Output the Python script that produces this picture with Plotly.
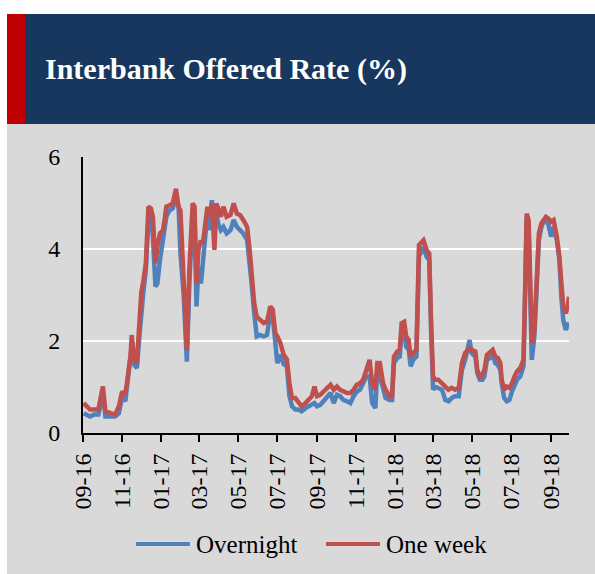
import plotly.graph_objects as go

dates = [
    "2016-09-02", "2016-09-07", "2016-09-12", "2016-09-18", "2016-09-25", "2016-10-02", "2016-10-06",
    "2016-10-14", "2016-10-21", "2016-10-27", "2016-11-01", "2016-11-06", "2016-11-09", "2016-11-14",
    "2016-11-16", "2016-11-20", "2016-11-24", "2016-11-28", "2016-12-01", "2016-12-04", "2016-12-08",
    "2016-12-12", "2016-12-16", "2016-12-19", "2016-12-23", "2016-12-26", "2016-12-30", "2017-01-04",
    "2017-01-09", "2017-01-14", "2017-01-19", "2017-01-24", "2017-01-28", "2017-01-31", "2017-02-05",
    "2017-02-10", "2017-02-14", "2017-02-19", "2017-02-22", "2017-02-25", "2017-02-28", "2017-03-04",
    "2017-03-07", "2017-03-11", "2017-03-14", "2017-03-17", "2017-03-21", "2017-03-25", "2017-03-28",
    "2017-03-31", "2017-04-04", "2017-04-08", "2017-04-13", "2017-04-19", "2017-04-24", "2017-04-29",
    "2017-05-04", "2017-05-09", "2017-05-15", "2017-05-19", "2017-05-22", "2017-05-26", "2017-05-30",
    "2017-06-04", "2017-06-10", "2017-06-15", "2017-06-20", "2017-06-24", "2017-06-28", "2017-07-01",
    "2017-07-06", "2017-07-11", "2017-07-16", "2017-07-20", "2017-07-24", "2017-07-29", "2017-08-03",
    "2017-08-08", "2017-08-14", "2017-08-19", "2017-08-24", "2017-08-28", "2017-09-01", "2017-09-06",
    "2017-09-11", "2017-09-16", "2017-09-22", "2017-09-27", "2017-10-02", "2017-10-07", "2017-10-12",
    "2017-10-18", "2017-10-23", "2017-10-28", "2017-11-02", "2017-11-07", "2017-11-12", "2017-11-17",
    "2017-11-22", "2017-11-26", "2017-12-01", "2017-12-04", "2017-12-08", "2017-12-13", "2017-12-17",
    "2017-12-23", "2017-12-27", "2017-12-30", "2018-01-04", "2018-01-08", "2018-01-11", "2018-01-15",
    "2018-01-18", "2018-01-22", "2018-01-25", "2018-01-29", "2018-02-03", "2018-02-07", "2018-02-11",
    "2018-02-14", "2018-02-19", "2018-02-23", "2018-02-26", "2018-03-01", "2018-03-04", "2018-03-09",
    "2018-03-15", "2018-03-20", "2018-03-25", "2018-03-30", "2018-04-04", "2018-04-10", "2018-04-15",
    "2018-04-20", "2018-04-25", "2018-04-27", "2018-04-30", "2018-05-06", "2018-05-09", "2018-05-13",
    "2018-05-17", "2018-05-20", "2018-05-24", "2018-05-29", "2018-06-02", "2018-06-06", "2018-06-10",
    "2018-06-14", "2018-06-16", "2018-06-20", "2018-06-24", "2018-06-28", "2018-07-02", "2018-07-06",
    "2018-07-10", "2018-07-15", "2018-07-20", "2018-07-23", "2018-07-25", "2018-07-28", "2018-07-30",
    "2018-08-02", "2018-08-06", "2018-08-10", "2018-08-13", "2018-08-17", "2018-08-20", "2018-08-24",
    "2018-08-28", "2018-09-01", "2018-09-05", "2018-09-10", "2018-09-14", "2018-09-17", "2018-09-20",
    "2018-09-24", "2018-09-27", "2018-09-29",
]

one_week = [
    0.65, 0.58, 0.51, 0.51, 0.51, 1.01, 0.47, 0.43, 0.40, 0.58, 0.90, 0.83, 1.16, 1.66,
    2.13, 1.59, 1.52, 2.31, 3.07, 3.29, 3.69, 4.92, 4.88, 4.70, 3.69, 4.05, 4.34, 4.41,
    4.92, 4.95, 4.99, 5.31, 4.92, 4.84, 3.30, 1.80, 3.60, 4.99, 4.92, 3.25, 3.98, 4.19,
    4.12, 4.70, 4.92, 4.70, 4.99, 3.98, 4.99, 4.88, 4.70, 4.92, 4.70, 4.74, 4.99, 4.77,
    4.74, 4.63, 4.48, 3.98, 3.40, 2.82, 2.53, 2.46, 2.39, 2.42, 2.75, 2.68, 2.17, 2.10,
    1.95, 1.70, 1.60, 1.08, 0.76, 0.76, 0.65, 0.58, 0.65, 0.72, 0.80, 1.01, 0.80, 0.83,
    0.90, 0.94, 1.05, 0.94, 1.01, 0.94, 0.90, 0.87, 0.87, 0.94, 1.05, 1.08, 1.16, 1.37,
    1.59, 1.08, 0.94, 1.52, 1.52, 1.08, 0.94, 0.80, 0.80, 1.66, 1.77, 1.81, 2.39, 2.42,
    2.10, 2.02, 1.66, 1.74, 1.81, 4.09, 4.16, 4.19, 3.98, 3.90, 2.39, 1.23, 1.16, 1.16,
    1.08, 1.01, 0.94, 0.98, 0.94, 0.98, 1.52, 1.74, 1.84, 1.84, 1.81, 1.77, 1.37, 1.23,
    1.27, 1.37, 1.70, 1.77, 1.81, 1.66, 1.63, 1.52, 1.16, 0.94, 1.01, 0.98, 1.08, 1.23,
    1.34, 1.41, 1.59, 3.40, 4.77, 4.63, 3.25, 1.95, 2.24, 3.25, 4.34, 4.56, 4.63, 4.70,
    4.66, 4.59, 4.63, 4.27, 3.83, 3.11, 2.75, 2.60, 2.75, 2.96,
]

overnight = [
    0.43, 0.40, 0.36, 0.40, 0.40, 0.85, 0.36, 0.36, 0.36, 0.43, 0.80, 0.69, 1.08, 1.52,
    1.88, 1.48, 1.41, 2.10, 2.68, 3.04, 3.54, 4.63, 4.70, 4.27, 3.18, 3.25, 3.76, 4.27,
    4.70, 4.84, 4.88, 5.13, 4.92, 3.90, 3.00, 1.55, 3.30, 4.70, 4.70, 2.75, 3.61, 3.25,
    3.69, 4.48, 4.77, 4.41, 5.06, 4.70, 4.77, 4.55, 4.41, 4.48, 4.34, 4.41, 4.63, 4.48,
    4.41, 4.34, 4.19, 3.76, 3.25, 2.60, 2.10, 2.13, 2.10, 2.13, 2.60, 2.53, 1.81, 1.52,
    1.70, 1.50, 1.45, 0.80, 0.58, 0.51, 0.51, 0.47, 0.54, 0.58, 0.61, 0.65, 0.58, 0.61,
    0.69, 0.76, 0.87, 0.65, 0.83, 0.80, 0.72, 0.69, 0.65, 0.80, 0.90, 0.94, 1.08, 1.23,
    1.23, 0.65, 0.54, 1.37, 1.23, 0.94, 0.76, 0.72, 0.72, 1.52, 1.63, 1.66, 2.21, 2.24,
    1.88, 1.81, 1.45, 1.59, 1.66, 3.83, 3.98, 4.05, 3.83, 3.76, 2.17, 0.94, 1.01, 0.98,
    0.94, 0.72, 0.69, 0.76, 0.80, 0.80, 1.37, 1.59, 1.95, 2.02, 1.74, 1.66, 1.30, 1.16,
    1.16, 1.23, 1.59, 1.63, 1.70, 1.52, 1.48, 1.37, 1.08, 0.76, 0.69, 0.72, 0.90, 1.05,
    1.16, 1.23, 1.45, 3.25, 4.70, 4.48, 2.89, 1.59, 2.10, 3.11, 4.19, 4.48, 4.59, 4.63,
    4.52, 4.27, 4.48, 4.19, 3.76, 2.96, 2.46, 2.24, 2.31, 2.40,
]

series_names = ["Overnight", "One week"]
title_text = "Interbank Offered Rate (%)"
y_ticks = [0, 2, 4, 6]

# page body margin is removed in post_script, so figure origin = page origin
W, H = 595, 574
PL, PR, PT, PB = 83, 569, 157, 433          # plot area in page pixels
L, R, T, B = PL, W - PR, PT, H - PB
PW, PH = PR - PL, PB - PT

def px(xp):
    return (xp - PL) / PW

def py(yp):
    return (PB - yp) / PH

BLUE = "#4F81BD"
RED = "#C0504D"
GRAY = "#D9D9D9"
NAVY = "#17375E"
SERIF = "Liberation Serif"

fig = go.Figure()
fig.add_trace(go.Scatter(x=dates, y=overnight, mode="lines", name=series_names[0],
                         line=dict(color=BLUE, width=4.5)))
fig.add_trace(go.Scatter(x=dates, y=one_week, mode="lines", name=series_names[1],
                         line=dict(color=RED, width=4.5)))

shapes = []
# white page margins (top and left)
shapes.append(dict(type="rect", xref="paper", yref="paper", x0=px(0), x1=px(W), y0=py(0), y1=py(14),
                   fillcolor="white", line=dict(width=0), layer="below"))
shapes.append(dict(type="rect", xref="paper", yref="paper", x0=px(0), x1=px(7), y0=py(0), y1=py(H),
                   fillcolor="white", line=dict(width=0), layer="below"))
# navy banner
shapes.append(dict(type="rect", xref="paper", yref="paper", x0=px(7), x1=px(W), y0=py(14), y1=py(124),
                   fillcolor=NAVY, line=dict(width=0), layer="below"))
# red strip
shapes.append(dict(type="rect", xref="paper", yref="paper", x0=px(7), x1=px(25), y0=py(14), y1=py(124),
                   fillcolor="#C00000", line=dict(width=0), layer="below"))

# legend drawn manually
leg_y = 544
leg = [(136, 190, BLUE, series_names[0]), (326, 380, RED, series_names[1])]
annotations = [dict(text=title_text, xref="paper", yref="paper", x=px(43), y=py(69),
                    xanchor="left", yanchor="middle", showarrow=False,
                    font=dict(family=SERIF, size=30, color="white", weight="bold"))]
for x0, x1, c, name in leg:
    shapes.append(dict(type="line", xref="paper", yref="paper", x0=px(x0), x1=px(x1), y0=py(leg_y), y1=py(leg_y),
                       line=dict(color=c, width=4)))
    annotations.append(dict(text=name, xref="paper", yref="paper", x=px(x1 + 4), y=py(leg_y),
                            xanchor="left", yanchor="middle", showarrow=False,
                            font=dict(family=SERIF, size=25, color="black")))

fig.update_layout(
    width=W, height=H,
    margin=dict(l=L, r=R, t=T, b=B, pad=0),
    paper_bgcolor=GRAY, plot_bgcolor=GRAY,
    showlegend=False,
    shapes=shapes,
    annotations=annotations,
    xaxis=dict(
        type="date", range=["2016-09-01", "2018-09-29"],
        tick0="2016-09-01", dtick="M2", tickformat="%m-%y",
        tickangle=-90, ticks="outside", ticklen=7, tickwidth=2, tickcolor="black",
        showline=True, linecolor="black", linewidth=2, showgrid=False, zeroline=False,
        tickfont=dict(family=SERIF, size=24, color="black"), ticklabelstandoff=2,
    ),
    yaxis=dict(
        range=[0, 6], tickvals=y_ticks, ticks="", showline=True, linecolor="black", linewidth=2,
        showgrid=True, gridcolor="white", gridwidth=2, zeroline=False,
        tickfont=dict(family=SERIF, size=24, color="black"), ticklabelstandoff=16,
    ),
)

fig.write_html("out.html", config={"displayModeBar": False},
               post_script="document.body.style.margin='0';")
